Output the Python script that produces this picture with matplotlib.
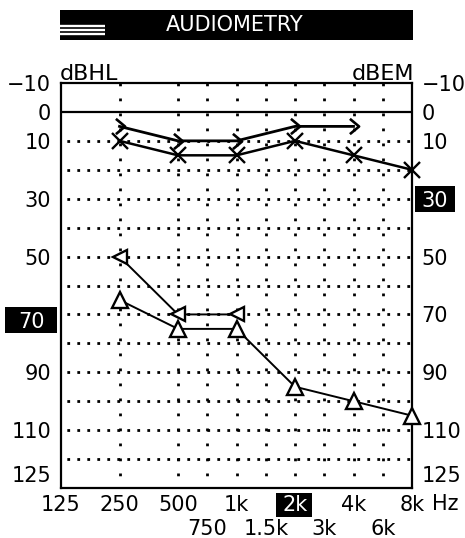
import numpy as np
import matplotlib
matplotlib.use("Agg")
import matplotlib.pyplot as plt
from matplotlib.path import Path
from matplotlib.patches import Rectangle
from matplotlib.lines import Line2D

plt.rcParams['font.family'] = ['DejaVu Sans']
plt.rcParams['lines.scale_dashes'] = False

# ---------------- data ----------------
grid_freqs = [125, 250, 500, 750, 1000, 1500, 2000, 3000, 4000, 6000, 8000]
grid_pos = [0, 1, 2, 2.5, 3, 3.5, 4, 4.5, 5, 5.5, 6]

major_freqs = [125, 250, 500, 1000, 2000, 4000, 8000]
major_labels = ['125', '250', '500', '1k', '2k', '4k', '8k']
minor_freqs = [750, 1500, 3000, 6000]
minor_labels = ['750', '1.5k', '3k', '6k']

y_ticks = [-10, 0, 10, 30, 50, 70, 90, 110, 125]
y_labels = ['\u221210', '0', '10', '30', '50', '70', '90', '110', '125']

# X-marker series (left ear air)
x_freqs = [250, 500, 1000, 2000, 4000, 8000]
x_vals = [10, 15, 15, 10, 15, 20]

# ">" series (bone)
bc_freqs = [250, 500, 1000, 2000, 4000]
bc_vals = [5, 10, 10, 5, 5]

# "<" series
lt_freqs = [250, 500, 1000]
lt_vals = [50, 70, 70]

# triangle series
tri_freqs = [250, 500, 1000, 2000, 4000, 8000]
tri_vals = [65, 75, 75, 95, 100, 105]

# ---------------- figure ----------------
W, H = 465, 538
fig = plt.figure(figsize=(W / 100, H / 100), dpi=100)

def fx(px):
    return px / W

def fy(py):
    return 1 - py / H

L, R, T, B = 61, 412, 83, 488
ax = fig.add_axes([fx(L), fy(B), (R - L) / W, (B - T) / H])

lg_f = np.log(np.array(grid_freqs, dtype=float))
gp = np.array(grid_pos, dtype=float)

def fwd(f):
    f = np.asarray(f, dtype=float)
    return np.interp(np.log(np.clip(f, 1e-9, None)), lg_f, gp)

def inv(p):
    return np.exp(np.interp(np.asarray(p, dtype=float), gp, lg_f))

ax.set_xscale('function', functions=(fwd, inv))
ax.set_xlim(125, 8000)
ax.set_ylim(130, -10)

# grid
for yv in range(10, 121, 10):
    ax.plot([125, 8000], [yv, yv], color='black', lw=2.0,
            linestyle=(3, (2.0, 5.2)), solid_capstyle='butt', zorder=1)
for fv in grid_freqs[1:-1]:
    ax.plot([fv, fv], [-10, 130], color='black', lw=2.0,
            linestyle=(0, (2.0, 8.8)), solid_capstyle='butt', zorder=1)
ax.axhline(0, color='black', lw=1.6, zorder=2)

for s in ax.spines.values():
    s.set_linewidth(1.6)

# markers
gt = Path([(-0.6, 1.0), (0.6, 0.0), (-0.6, -1.0)],
          [Path.MOVETO, Path.LINETO, Path.LINETO])

ax.plot(x_freqs, x_vals, color='black', lw=1.8, marker='x', ms=12, mew=1.7,
        zorder=4, clip_on=False)
ax.plot(bc_freqs, bc_vals, color='black', lw=2.0, marker=gt, ms=11, mew=1.9,
        mfc='none', zorder=4, clip_on=False)
ax.plot(lt_freqs, lt_vals, color='black', lw=1.4, marker='<', ms=10, mew=1.7,
        mfc='white', zorder=4, clip_on=False)
ax.plot(tri_freqs, tri_vals, color='black', lw=1.4, marker='^', ms=11, mew=1.7,
        mfc='white', zorder=4, clip_on=False)

FS = 15
# ticks
ax.set_yticks(y_ticks)
ax.set_yticklabels(y_labels)
ax.tick_params(axis='y', length=0, pad=7, labelsize=FS,
               left=False, right=False, labelleft=True, labelright=True)
ax.set_xticks(major_freqs)
ax.set_xticklabels(major_labels)
ax.set_xticks(minor_freqs, minor=True)
ax.set_xticklabels(minor_labels, minor=True)
ax.tick_params(axis='x', which='major', length=0, pad=5, labelsize=FS)
ax.tick_params(axis='x', which='minor', length=0, pad=22, labelsize=FS)

yt = ax.yaxis.get_major_ticks()
yt[y_ticks.index(70)].label1.set_visible(False)
yt[y_ticks.index(30)].label2.set_color('white')
xt = ax.xaxis.get_major_ticks()
xt[major_freqs.index(2000)].label1.set_color('white')

# highlight boxes
for (x0, y0, x1, y1) in [(5, 307, 57, 333), (415, 186, 455, 212), (276, 493, 312, 517)]:
    fig.patches.append(Rectangle((fx(x0), fy(y1)), (x1 - x0) / W, (y1 - y0) / H,
                                 transform=fig.transFigure, facecolor='black',
                                 edgecolor='none', zorder=-1))
fig.text(fx(31), fy(320), '70', color='white', fontsize=FS,
         ha='center', va='center_baseline')

# title bar
fig.patches.append(Rectangle((fx(60), fy(40)), 353 / W, 30 / H,
                             transform=fig.transFigure, facecolor='black',
                             edgecolor='none', zorder=1))
for yy in [25.5, 29.5, 33.5]:
    fig.lines.append(Line2D([fx(60), fx(105)], [fy(yy), fy(yy)],
                            transform=fig.transFigure, color='white', lw=1.7,
                            solid_capstyle='butt', zorder=2))
fig.text(fx(235), fy(25), 'AUDIOMETRY', color='white', fontsize=15,
         ha='center', va='center', zorder=3)

fig.text(fx(60), fy(80), 'dBHL', fontsize=16, ha='left', va='baseline')
fig.text(fx(414), fy(80), 'dBEM', fontsize=16, ha='right', va='baseline')
fig.text(fx(445), fy(504), 'Hz', fontsize=FS, ha='center', va='center')

fig.savefig('out.png', dpi=100)
